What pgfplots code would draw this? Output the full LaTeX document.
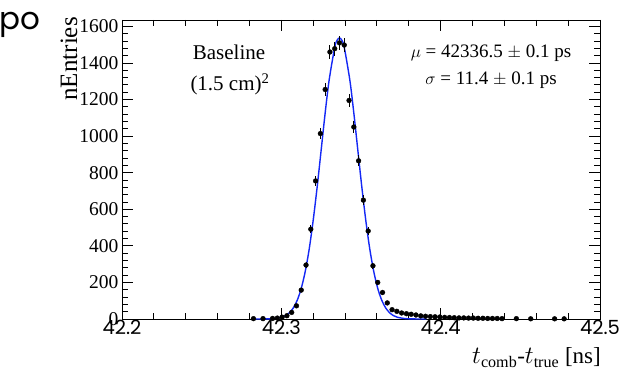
\documentclass[border=0pt]{standalone}
\usepackage{pgfplots}
\pgfplotsset{compat=1.18}
\usepackage{fontspec}
\setmainfont{Liberation Serif}
\newfontfamily\pop{Poppins}
\definecolor{fitblue}{RGB}{20,40,245}
\begin{document}
\begin{tikzpicture}[x=1pt,y=1pt]
\path[use as bounding box] (0,0) rectangle (621,372);
\node[anchor=base west,inner sep=0pt,font=\pop\fontsize{31}{31}\selectfont] at (-1,342) {po};
\fill[white] (42,0) rectangle (621,372);
\begin{axis}[
  at={(122pt,53pt)}, anchor=south west,
  scale only axis, width=478pt, height=299pt,
  xmin=42.2, xmax=42.5, ymin=0, ymax=1635,
  xtick={42.2,42.3,42.4,42.5},
  xticklabels={42.2,42.3,42.4,42.5},
  minor x tick num=4,
  ytick={0,200,400,600,800,1000,1200,1400,1600},
  yticklabels={0,200,400,600,800,1000,1200,1400,1600},
  minor y tick num=4,
  tick align=inside,
  major tick length=11pt, minor tick length=6pt,
  every tick/.style={black,line width=0.9pt},
  axis line style={line width=0.9pt},
  xticklabel style={font=\pop\fontsize{19.5}{19.5}\selectfont, yshift=2pt},
  yticklabel style={font=\fontsize{19.5}{19.5}\selectfont, xshift=0pt},
  clip=false,
]
\addplot[fitblue, line width=1.4pt, smooth] coordinates {
(42.2820,0.01) (42.2900,0.37) (42.2950,2.0) (42.3000,9.1) (42.3025,18) (42.3050,33.8)
(42.3075,60.4) (42.3100,103) (42.3125,167.5) (42.3150,260) (42.3175,383) (42.3200,540)
(42.3225,723) (42.3250,924) (42.3275,1126) (42.3300,1306) (42.3335,1485) (42.3350,1524)
(42.3365,1537) (42.3380,1524) (42.3395,1485) (42.3430,1306) (42.3455,1126) (42.3480,924)
(42.3505,723) (42.3530,540) (42.3555,383) (42.3580,260) (42.3605,167.5) (42.3630,103)
(42.3655,60.4) (42.3680,33.8) (42.3705,18) (42.3730,9.1) (42.3780,2.0) (42.3830,0.37) (42.3910,0.01)
};
\addplot[black, only marks, mark=*, mark size=2.4pt,
  error bars/.cd, y dir=both, y explicit,
  error bar style={line width=1pt}, error mark=none]
  coordinates {
(42.2825,2) +- (0,1.4)
(42.2885,2) +- (0,1.4)
(42.2945,3) +- (0,1.7)
(42.2975,5) +- (0,2.2)
(42.3005,10) +- (0,3.2)
(42.3035,18) +- (0,4.2)
(42.3065,36) +- (0,6)
(42.3095,72) +- (0,8.5)
(42.3125,158) +- (0,12.6)
(42.3155,295) +- (0,17.2)
(42.3185,491) +- (0,22.2)
(42.3215,755) +- (0,27.5)
(42.3245,1014) +- (0,31.8)
(42.3275,1255) +- (0,35.4)
(42.3305,1460) +- (0,38.2)
(42.3335,1478) +- (0,38.4)
(42.3365,1510) +- (0,38.9)
(42.3395,1498) +- (0,38.7)
(42.3425,1195) +- (0,34.6)
(42.3455,1050) +- (0,32.4)
(42.3485,865) +- (0,29.4)
(42.3515,650) +- (0,25.5)
(42.3545,481) +- (0,21.9)
(42.3575,291) +- (0,17.1)
(42.3605,200) +- (0,14.1)
(42.3635,145) +- (0,12.0)
(42.3665,88) +- (0,9.4)
(42.3695,51) +- (0,7.1)
(42.3725,42) +- (0,6.5)
(42.3755,33) +- (0,5.7)
(42.3785,29) +- (0,5.4)
(42.3815,26) +- (0,5.1)
(42.3845,22) +- (0,4.7)
(42.3875,17) +- (0,4.1)
(42.3905,15) +- (0,3.9)
(42.3935,13) +- (0,3.6)
(42.3965,12) +- (0,3.5)
(42.3995,11) +- (0,3.3)
(42.4025,9) +- (0,3.0)
(42.4055,8) +- (0,2.8)
(42.4085,7) +- (0,2.6)
(42.4115,6) +- (0,2.4)
(42.4145,6) +- (0,2.4)
(42.4175,5) +- (0,2.2)
(42.4205,5) +- (0,2.2)
(42.4235,4) +- (0,2.0)
(42.4265,4) +- (0,2.0)
(42.4295,3) +- (0,1.7)
(42.4325,3) +- (0,1.7)
(42.4355,3) +- (0,1.7)
(42.4385,2) +- (0,1.4)
(42.4475,2) +- (0,1.4)
(42.4565,1) +- (0,1.0)
(42.4715,1) +- (0,1.0)
(42.4775,1) +- (0,1.0)
};
\end{axis}
\node[rotate=90,anchor=east,inner sep=0pt,font=\fontsize{25}{25}\selectfont] at (69,355) {nEntries};
\node[anchor=base east,inner sep=0pt,font=\fontsize{23}{23}\selectfont] at (601,8) {$t_{\mathrm{comb}}$-$t_{\mathrm{true}}$ [ns]};
\node[anchor=base,inner sep=0pt,font=\fontsize{21}{21}\selectfont] at (229,312) {Baseline};
\node[anchor=base,inner sep=0pt,font=\fontsize{21}{21}\selectfont] at (230,281) {(1.5 cm)$^{\mathrm{2}}$};
\node[anchor=base,inner sep=0pt,font=\fontsize{19}{19}\selectfont] at (491,314) {$\mu$ = 42336.5 $\pm$ 0.1 ps};
\node[anchor=base,inner sep=0pt,font=\fontsize{19}{19}\selectfont] at (491,287) {$\sigma$ = 11.4 $\pm$ 0.1 ps};
\end{tikzpicture}
\end{document}
